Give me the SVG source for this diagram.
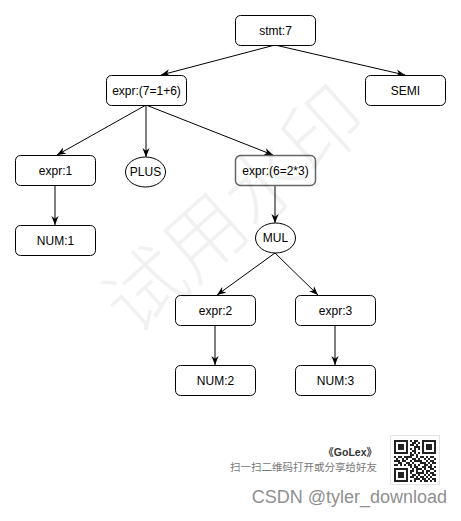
<svg xmlns="http://www.w3.org/2000/svg" width="461" height="521" viewBox="0 0 461 521">
<style>
.box{fill:#fff;stroke:#000;stroke-width:1}
.ell{fill:#fff;stroke:#000;stroke-width:1}
.lbl{font-family:"Liberation Sans",Arial,sans-serif;font-size:12px;fill:#000;text-anchor:middle;dominant-baseline:central}
.edge{fill:none;stroke:#000;stroke-width:1;marker-end:url(#arr)}
</style>
<defs>
<marker id="arr" markerUnits="userSpaceOnUse" viewBox="0 0 10 8" markerWidth="9" markerHeight="7.5" refX="10" refY="4" orient="auto">
<path d="M0,0 L10,4 L0,8 L3,4 z" fill="#000"/>
</marker>
</defs>
<rect width="461" height="521" fill="#fff"/>
<g id="connectors">
<path class="edge" d="M275,45 L161,75"/>
<path class="edge" d="M275,45 L405,75"/>
<path class="edge" d="M146,105 L57,155"/>
<path class="edge" d="M146,105 L146,157"/>
<path class="edge" d="M146,105 L273,155"/>
<path class="edge" d="M55,185 L55,225"/>
<path class="edge" d="M275,185 L275,223"/>
<path class="edge" d="M275,253 L217,295"/>
<path class="edge" d="M275,253 L318,295"/>
<path class="edge" d="M215,325 L215,365"/>
<path class="edge" d="M335,325 L335,365"/>
</g>
<g id="stmt7"><rect class="box" x="235.5" y="15.5" width="80" height="30" rx="5"/><text class="lbl" x="275.5" y="30.5">stmt:7</text></g>
<g id="expr7"><rect class="box" x="106.5" y="75.5" width="80" height="30" rx="5"/><text class="lbl" x="146.5" y="90.5">expr:(7=1+6)</text></g>
<g id="semi"><rect class="box" x="365.5" y="75.5" width="80" height="30" rx="5"/><text class="lbl" x="405.5" y="90.5">SEMI</text></g>
<g id="expr1"><rect class="box" x="15.5" y="155.5" width="80" height="30" rx="5"/><text class="lbl" x="55.5" y="170.5">expr:1</text></g>
<g id="plus"><ellipse class="ell" cx="145.5" cy="172" rx="20" ry="15"/><text class="lbl" x="145.5" y="172">PLUS</text></g>
<g id="expr6"><rect x="235.5" y="155.5" width="80" height="30" rx="5" fill="#fff" stroke="#666" stroke-width="1.5"/><text class="lbl" x="275.5" y="170.5">expr:(6=2*3)</text></g>
<g id="num1"><rect class="box" x="15.5" y="225.5" width="80" height="30" rx="5"/><text class="lbl" x="55.5" y="240.5">NUM:1</text></g>
<g id="mul"><ellipse class="ell" cx="275.5" cy="238" rx="20" ry="15"/><text class="lbl" x="275.5" y="238">MUL</text></g>
<g id="expr2"><rect class="box" x="175.5" y="295.5" width="80" height="30" rx="5"/><text class="lbl" x="215.5" y="310.5">expr:2</text></g>
<g id="expr3"><rect class="box" x="295.5" y="295.5" width="80" height="30" rx="5"/><text class="lbl" x="335.5" y="310.5">expr:3</text></g>
<g id="num2"><rect class="box" x="175.5" y="365.5" width="80" height="30" rx="5"/><text class="lbl" x="215.5" y="380.5">NUM:2</text></g>
<g id="num3"><rect class="box" x="295.5" y="365.5" width="80" height="30" rx="5"/><text class="lbl" x="335.5" y="380.5">NUM:3</text></g>
<text x="0" y="0" transform="translate(230,205) rotate(-42)" font-family="'Noto Sans CJK SC',sans-serif" font-size="80" font-weight="300" fill="#000" fill-opacity="0.055" text-anchor="middle" dominant-baseline="central">试用水印</text>
<g id="footer">
<text x="377" y="456" font-family="'Liberation Sans','Noto Sans CJK SC',sans-serif" font-size="10.5" font-weight="bold" fill="#333" text-anchor="end">《GoLex》</text>
<text x="377" y="471" font-family="'Noto Sans CJK SC',sans-serif" font-size="10.5" fill="#777" text-anchor="end">扫一扫二维码打开或分享给好友</text>
<rect x="390.5" y="435.5" width="49" height="49" fill="#fff" stroke="#e4e4e4"/>
<path fill="#222" d="M394,440h14v2h-14z M410,440h2v2h-2z M414,440h4v2h-4z M422,440h14v2h-14z
M394,442h2v2h-2z M406,442h2v2h-2z M412,442h4v2h-4z M418,442h2v2h-2z M422,442h2v2h-2z M434,442h2v2h-2z
M394,444h2v2h-2z M398,444h6v2h-6z M406,444h2v2h-2z M410,444h4v2h-4z M416,444h2v2h-2z M422,444h2v2h-2z M426,444h6v2h-6z M434,444h2v2h-2z
M394,446h2v2h-2z M398,446h6v2h-6z M406,446h2v2h-2z M414,446h6v2h-6z M422,446h2v2h-2z M426,446h6v2h-6z M434,446h2v2h-2z
M394,448h2v2h-2z M398,448h6v2h-6z M406,448h2v2h-2z M410,448h2v2h-2z M414,448h2v2h-2z M418,448h2v2h-2z M422,448h2v2h-2z M426,448h6v2h-6z M434,448h2v2h-2z
M394,450h2v2h-2z M406,450h2v2h-2z M412,450h4v2h-4z M422,450h2v2h-2z M434,450h2v2h-2z
M394,452h14v2h-14z M410,452h2v2h-2z M414,452h2v2h-2z M418,452h2v2h-2z M422,452h14v2h-14z
M410,454h4v2h-4z M416,454h2v2h-2z
M394,456h2v2h-2z M398,456h4v2h-4z M404,456h8v2h-8z M416,456h2v2h-2z M420,456h4v2h-4z M426,456h2v2h-2z M430,456h4v2h-4z
M396,458h2v2h-2z M402,458h2v2h-2z M406,458h2v2h-2z M412,458h4v2h-4z M418,458h2v2h-2z M424,458h2v2h-2z M428,458h2v2h-2z M434,458h2v2h-2z
M394,460h6v2h-6z M402,460h4v2h-4z M410,460h2v2h-2z M414,460h8v2h-8z M426,460h2v2h-2z M430,460h4v2h-4z
M398,462h4v2h-4z M406,462h4v2h-4z M412,462h2v2h-2z M420,462h6v2h-6z M428,462h2v2h-2z M432,462h4v2h-4z
M394,464h4v2h-4z M400,464h2v2h-2z M404,464h2v2h-2z M408,464h4v2h-4z M414,464h2v2h-2z M418,464h2v2h-2z M424,464h4v2h-4z M430,464h2v2h-2z
M410,466h2v2h-2z M414,466h4v2h-4z M422,466h4v2h-4z M428,466h4v2h-4z M434,466h2v2h-2z
M394,468h14v2h-14z M412,468h2v2h-2z M416,468h6v2h-6z M424,468h2v2h-2z M430,468h4v2h-4z
M394,470h2v2h-2z M406,470h2v2h-2z M410,470h4v2h-4z M416,470h2v2h-2z M422,470h2v2h-2z M426,470h4v2h-4z M434,470h2v2h-2z
M394,472h2v2h-2z M398,472h6v2h-6z M406,472h2v2h-2z M410,472h2v2h-2z M416,472h8v2h-8z M426,472h2v2h-2z M430,472h4v2h-4z
M394,474h2v2h-2z M398,474h6v2h-6z M406,474h2v2h-2z M412,474h4v2h-4z M418,474h2v2h-2z M424,474h2v2h-2z M428,474h2v2h-2z M432,474h4v2h-4z
M394,476h2v2h-2z M398,476h6v2h-6z M406,476h2v2h-2z M410,476h4v2h-4z M416,476h2v2h-2z M420,476h4v2h-4z M426,476h2v2h-2z M430,476h2v2h-2z
M394,478h2v2h-2z M406,478h2v2h-2z M414,478h6v2h-6z M422,478h4v2h-4z M428,478h2v2h-2z M432,478h4v2h-4z
M394,480h14v2h-14z M410,480h2v2h-2z M414,480h2v2h-2z M420,480h2v2h-2z M424,480h4v2h-4z M430,480h2v2h-2z M434,480h2v2h-2z"/>
<text x="447" y="503" font-family="'Liberation Sans',Arial,sans-serif" font-size="18" fill="#8f8f8f" text-anchor="end">CSDN @tyler_download</text>
</g>
</svg>
